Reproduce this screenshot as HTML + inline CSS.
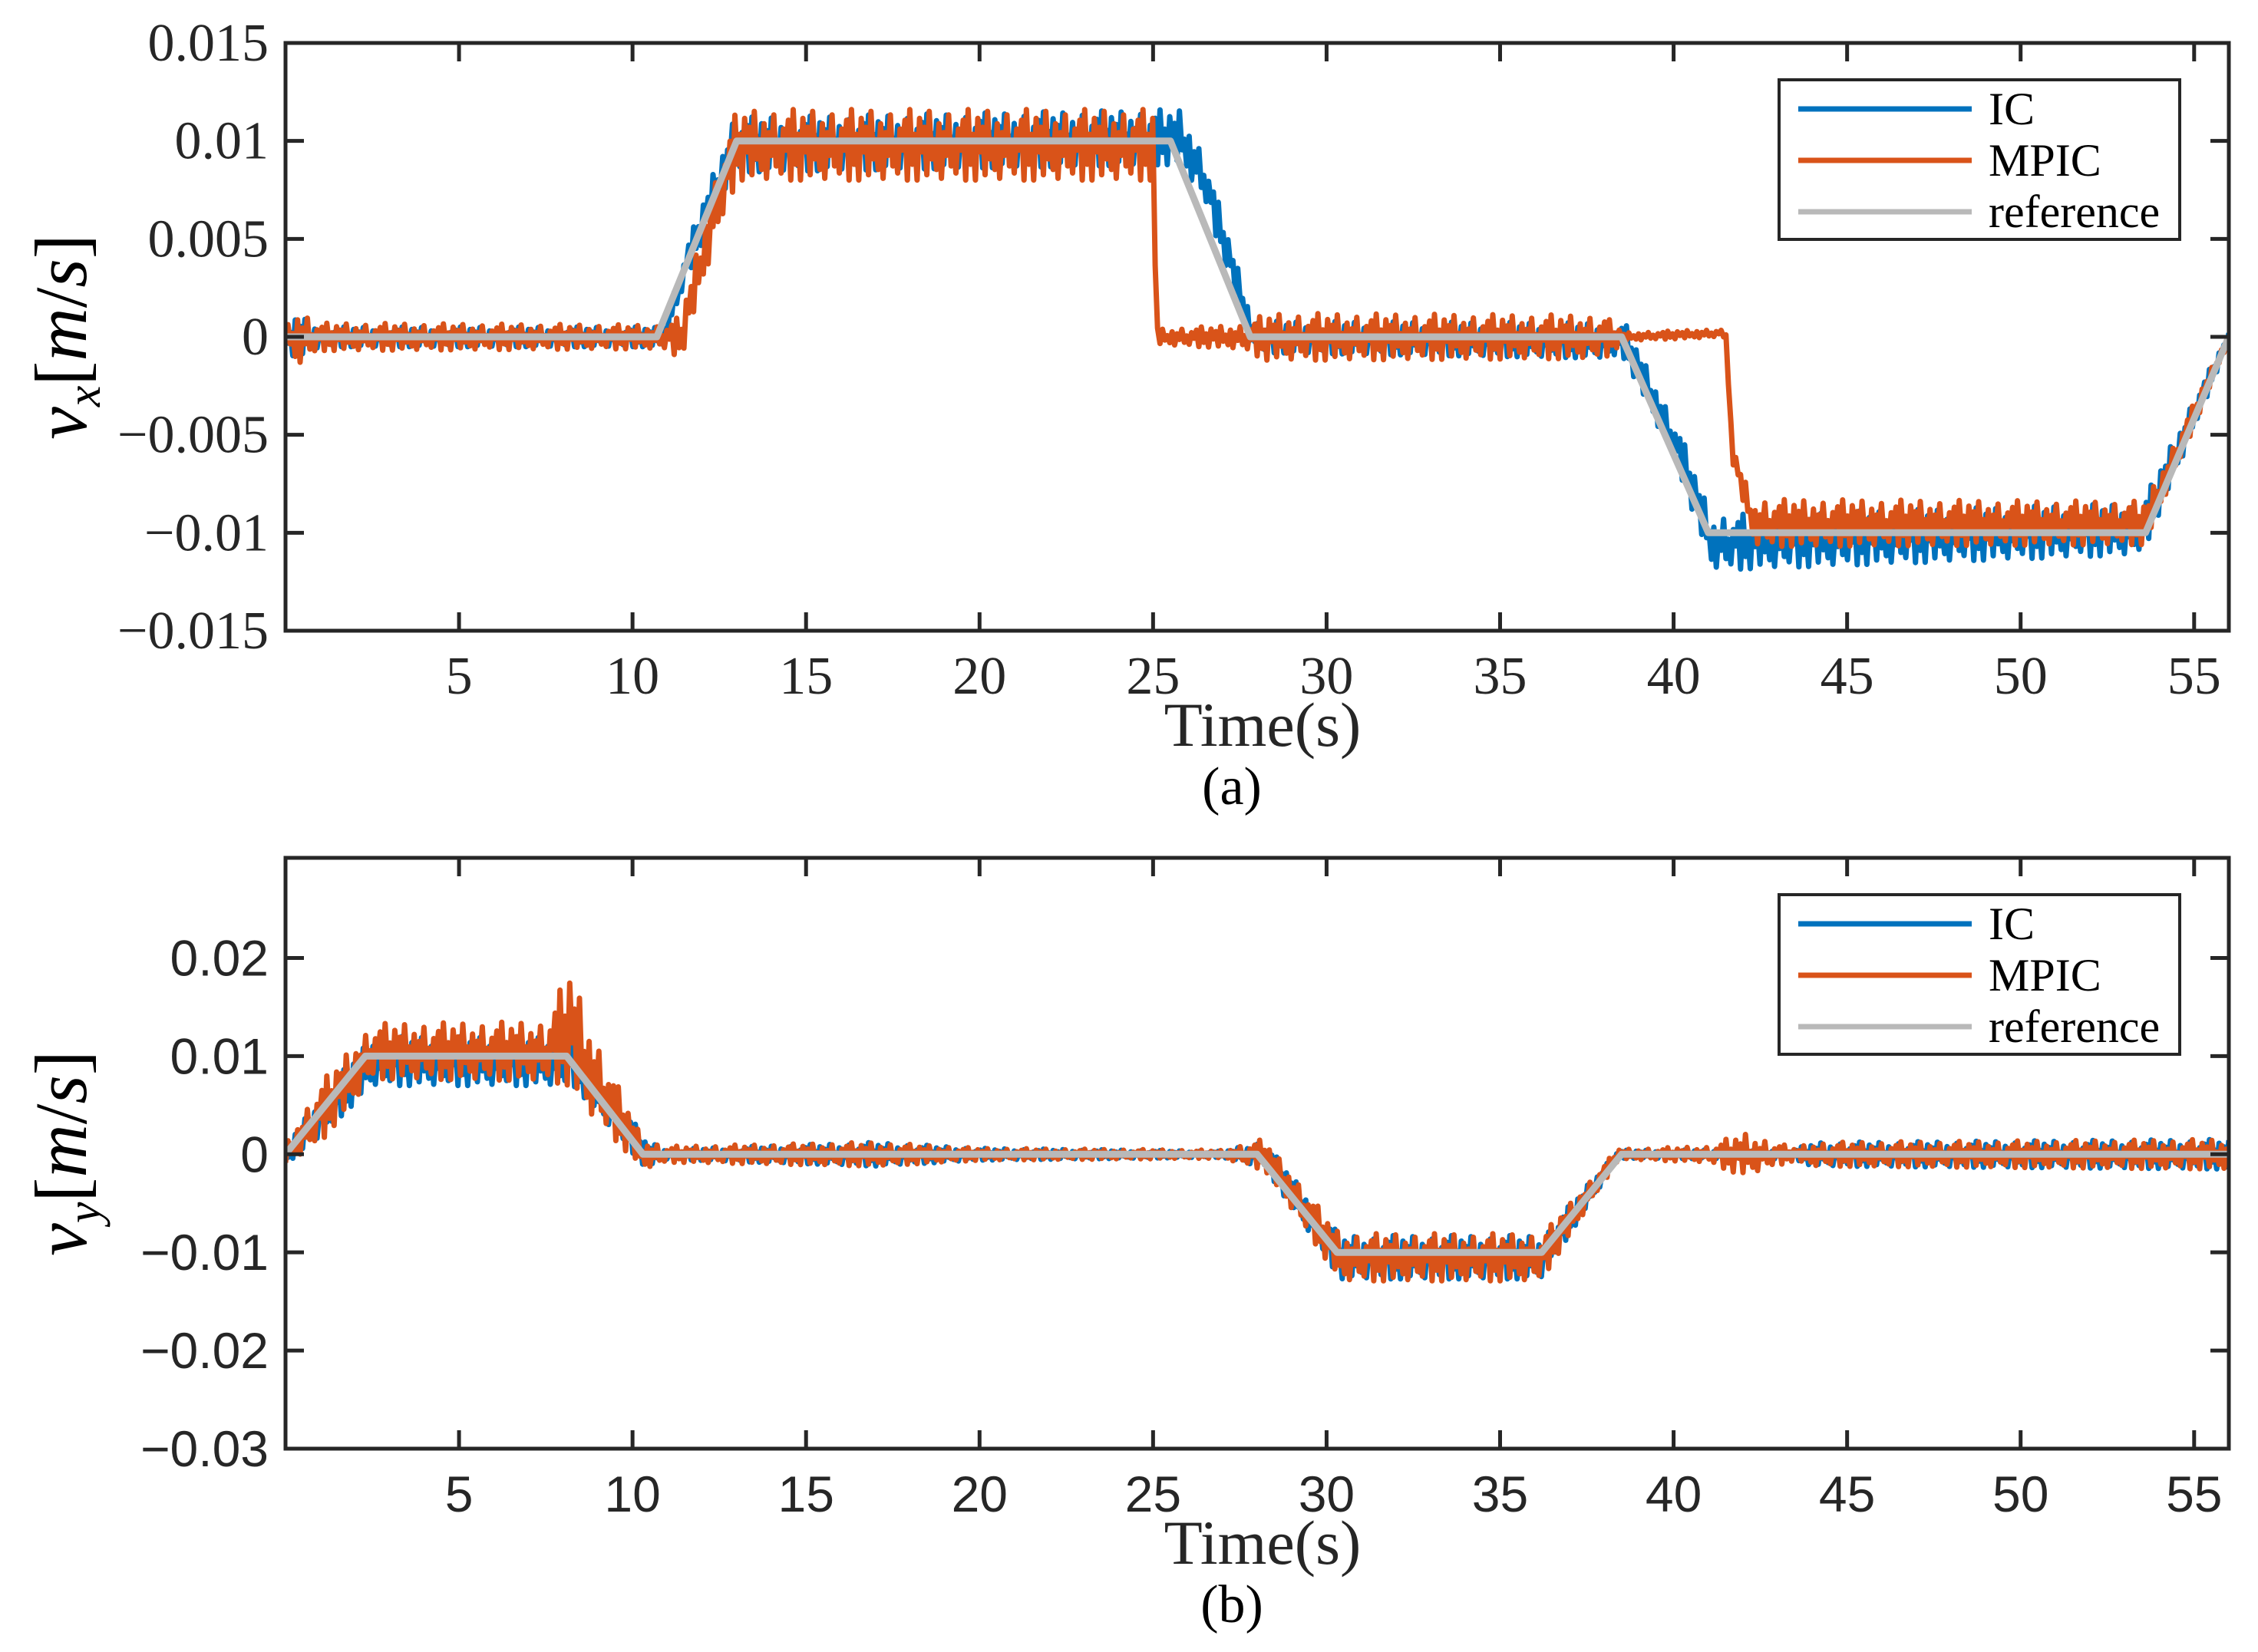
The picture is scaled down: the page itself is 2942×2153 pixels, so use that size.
<!DOCTYPE html>
<html><head><meta charset="utf-8"><style>
html,body{margin:0;padding:0;background:#fff;}
svg{display:block;}
.serif{font-family:"Liberation Serif",serif;}
.sans{font-family:"Liberation Sans",sans-serif;}
</style></head><body>
<svg id="fig" width="2942" height="2153" viewBox="0 0 2942 2153" xmlns="http://www.w3.org/2000/svg">
<rect width="2942" height="2153" fill="#fff"/>
<g id="pa"></g>
<g id="pb"></g>
</svg>
<script>
// ---- data (breakpoints: time, value) ----
const xTicks = [5,10,15,20,25,30,35,40,45,50,55];
// plot (a) vx
const aYTicks = [-0.015,-0.01,-0.005,0,0.005,0.01,0.015];
const aYTickLabels = ["\u22120.015","\u22120.01","\u22120.005","0","0.005","0.01","0.015"];
const aRefT = [0,10.7,13,25.5,27.8,38.5,41,53.6,56];
const aRefV = [0,0,0.01,0.01,0,0,-0.01,-0.01,0];
const aIcT = [0,10.9,11.6,12.9,25.8,26.5,27.9,38.6,40.2,41.1,53.5,56];
const aIcV = [0,0,0.004,0.0098,0.0102,0.008,0,-0.0002,-0.006,-0.0105,-0.0098,0];
const aIcAmpT = [0,0.3,1,10.8,12,13,25.8,27,28,38.5,40,41.5,53.5,55,56];
const aIcAmpV = [0.0004,0.0012,0.0005,0.0005,0.001,0.0014,0.0014,0.001,0.0008,0.0009,0.001,0.0014,0.0013,0.0008,0.0002];
const aMpT = [0,11.4,12.3,13,25,25.1,38.5,41.5,41.7,42.3,53.6,56];
const aMpV = [0,0,0.006,0.0098,0.0098,0,0,0.0002,-0.006,-0.0095,-0.0095,0];
const aMpAmpT = [0,0.3,1,10.8,12,13,25,25.2,27.5,28.3,38,38.6,41.5,42.5,53.5,55,56];
const aMpAmpV = [0.0004,0.0015,0.0007,0.0006,0.0015,0.0018,0.0018,0.0004,0.0006,0.0012,0.0011,0.0002,0.0002,0.0012,0.0011,0.0006,0.0002];
// plot (b) vy
const bYTicks = [-0.03,-0.02,-0.01,0,0.01,0.02];
const bYTickLabels = ["\u22120.03","\u22120.02","\u22120.01","0","0.01","0.02"];
const bRefT = [0,2.3,8.1,10.3,28,30.3,36.2,38.5,56];
const bRefV = [0,0.01,0.01,0,0,-0.01,-0.01,0,0];
const bIcT = [0,2.5,8.3,10.4,28.2,30.4,36.2,38.4,56];
const bIcV = [0,0.0095,0.0095,0,0,-0.0105,-0.0105,0,0];
const bIcAmpT = [0,1,2.5,8.3,10.3,11,17,20,27,28,30.5,36,38.5,43.5,44,56];
const bIcAmpV = [0.001,0.002,0.0025,0.0025,0.0015,0.0005,0.0012,0.0006,0.0003,0.0012,0.0022,0.0022,0.0004,0.0005,0.0012,0.0015];
const bMpT = [0,2.5,7.5,8.2,8.7,10.3,28.2,30.4,36.2,38.4,56];
const bMpV = [0,0.0105,0.0105,0.013,0.009,0,0,-0.0105,-0.0105,0,0];
const bMpAmpT = [0,1,2.5,7.5,8.2,9,10.3,11,17,20,27,28,30.5,36,38.5,41,42,43.5,44,56];
const bMpAmpV = [0.001,0.003,0.0028,0.003,0.006,0.004,0.0015,0.0008,0.0012,0.0006,0.0004,0.0014,0.0024,0.0024,0.0005,0.0008,0.0022,0.0006,0.0012,0.0015];
const jitter = [1,-0.55,0.3,-1,0.75,-0.2,0.5,-0.85,0.95,-0.4,0.15,-0.7,0.6,-0.95,0.35,-0.3,0.85,-0.6,0.1,-0.8,0.45,-0.15,0.7,-1];

const NS="http://www.w3.org/2000/svg";
function mk(tag,attrs,parent){const e=document.createElementNS(NS,tag);for(const k in attrs)e.setAttribute(k,attrs[k]);parent.appendChild(e);return e;}
function interp(T,V,t){if(t<=T[0])return V[0];for(let i=1;i<T.length;i++){if(t<=T[i]){const f=(t-T[i-1])/(T[i]-T[i-1]||1);return V[i-1]+f*(V[i]-V[i-1]);}}return V[V.length-1];}

const X0=372,X1=2904,XMAX=56;
function sx(t){return X0+(X1-X0)*t/XMAX;}

function drawPlot(g,cfg){
  const sy=v=>cfg.y1+(cfg.y0-cfg.y1)*(v-cfg.ymin)/(cfg.ymax-cfg.ymin);
  const clipId=cfg.id+'clip';
  const defs=mk('defs',{},g);
  const cp=mk('clipPath',{id:clipId},defs);
  mk('rect',{x:X0,y:cfg.y0,width:X1-X0,height:cfg.y1-cfg.y0},cp);
  const series=mk('g',{'clip-path':'url(#'+clipId+')'},g);
  
  
  function noisy(T,V,AT,AV,color,name,off){
    let d='';const dt=0.07;let k=off;
    for(let t=0;t<=XMAX+1e-9;t+=dt){const v=interp(T,V,t)+interp(AT,AV,t)*jitter[k%jitter.length];k++;d+=(d?'L':'M')+sx(t).toFixed(1)+' '+sy(v).toFixed(1);}
    const p=mk('path',{d:d,fill:'none',stroke:color,'stroke-width':7,'stroke-linejoin':'round'},series);
    
    
  }
  noisy(cfg.icT,cfg.icV,cfg.icAT,cfg.icAV,'#0072BD','ic-line',0);
  noisy(cfg.mpT,cfg.mpV,cfg.mpAT,cfg.mpAV,'#D95319','mpic-line',7);
  let d='';for(let i=0;i<cfg.refT.length;i++)d+=(i?'L':'M')+sx(cfg.refT[i]).toFixed(1)+' '+sy(cfg.refV[i]).toFixed(1);
  const rp=mk('path',{d:d,fill:'none',stroke:'#B9B9B9','stroke-width':9,'stroke-linejoin':'round'},series);
  
  
  const box=mk('rect',{x:X0,y:cfg.y0,width:X1-X0,height:cfg.y1-cfg.y0,fill:'none',stroke:'#262626','stroke-width':5},g);
  
  
  const fcls=cfg.serif?'serif':'sans';
  const fs=cfg.serif?70:66;
  xTicks.forEach(t=>{
    const x=sx(t);
    const l=mk('path',{d:`M${x} ${cfg.y1}V${cfg.y1-24}M${x} ${cfg.y0}V${cfg.y0+24}`,stroke:'#262626','stroke-width':5},g);
    
    
    const tx=mk('text',{x:x,y:cfg.y1+82,'text-anchor':'middle','font-size':fs,fill:'#262626',class:fcls},g);
    tx.textContent=String(t);
    
    
  });
  cfg.yTicks.forEach((v,i)=>{
    const y=sy(v);
    const l=mk('path',{d:`M${X0} ${y}H${X0+24}M${X1} ${y}H${X1-24}`,stroke:'#262626','stroke-width':5},g);
    
    
    const tx=mk('text',{x:X0-22,y:y+23,'text-anchor':'end','font-size':fs,fill:'#262626',class:fcls},g);
    tx.textContent=cfg.yLabels[i];
    
    
  });
  const yc=(cfg.y0+cfg.y1)/2;
  const yt=mk('text',{transform:`translate(112 ${yc}) rotate(-90)`,'text-anchor':'middle','font-size':96,fill:'#000',class:'serif'},g);
  yt.innerHTML=`<tspan font-style="italic">v</tspan><tspan font-style="italic" font-size="62" dy="18">${cfg.sub}</tspan><tspan dy="-18">[</tspan><tspan font-style="italic">m</tspan><tspan>/</tspan><tspan font-style="italic">s</tspan><tspan>]</tspan>`;
  
  
  const xt=mk('text',{x:1645,y:cfg.y1+150,'text-anchor':'middle','font-size':82,fill:'#262626',class:'serif'},g);
  xt.textContent='Time(s)';
  
  
  const cap=mk('text',{x:1605,y:cfg.y1+226,'text-anchor':'middle','font-size':70,fill:'#000',class:'serif'},g);
  cap.textContent=cfg.caption;
  
  
  const lg=mk('g',{},g);
  
  
  const ly=cfg.y0+48;
  mk('rect',{x:2318,y:ly,width:522,height:208,fill:'#fff',stroke:'#262626','stroke-width':4},lg);
  const items=[['IC','#0072BD'],['MPIC','#D95319'],['reference','#B9B9B9']];
  items.forEach((it,i)=>{
    const yy=ly+38+i*67;
    const ln=mk('line',{x1:2343,x2:2569,y1:yy,y2:yy,stroke:it[1],'stroke-width':7},lg);
    
    
    const tx=mk('text',{x:2591,y:yy+20,'font-size':60,fill:'#000',class:'serif'},lg);
    tx.textContent=it[0];
    
    
  });
}
drawPlot(document.getElementById('pa'),{id:'a',y0:56,y1:822,ymin:-0.015,ymax:0.015,yTicks:aYTicks,yLabels:aYTickLabels,serif:true,sub:'x',caption:'(a)',
  refT:aRefT,refV:aRefV,icT:aIcT,icV:aIcV,icAT:aIcAmpT,icAV:aIcAmpV,mpT:aMpT,mpV:aMpV,mpAT:aMpAmpT,mpAV:aMpAmpV});
drawPlot(document.getElementById('pb'),{id:'b',y0:1118,y1:1888,ymin:-0.03,ymax:0.0302,yTicks:bYTicks,yLabels:bYTickLabels,serif:false,sub:'y',caption:'(b)',
  refT:bRefT,refV:bRefV,icT:bIcT,icV:bIcV,icAT:bIcAmpT,icAV:bIcAmpV,mpT:bMpT,mpV:bMpV,mpAT:bMpAmpT,mpAV:bMpAmpV});
</script>
</body></html>
